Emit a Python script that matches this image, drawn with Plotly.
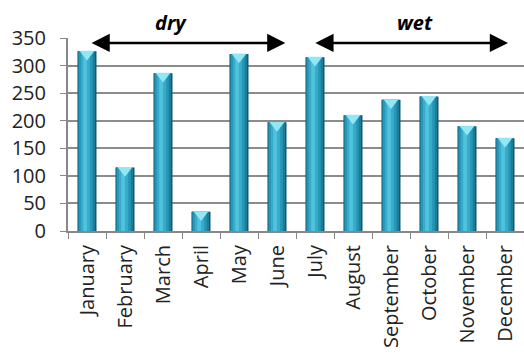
import plotly.graph_objects as go

# Monthly rainfall (mm)
months = ["January", "February", "March", "April", "May", "June",
          "July", "August", "September", "October", "November", "December"]
rainfall = [326, 115, 286, 35, 321, 197, 315, 210, 238, 244, 190, 168]

# Seasons: label, span of the arrow and label position (category index)
seasons = ["dry", "wet"]
season_start = [0.08, 5.97]
season_end = [5.22, 11.08]
season_label_x = [2.22, 8.64]
season_level = 341

y_ticks = [0, 50, 100, 150, 200, 250, 300, 350]

fig = go.Figure()

# Cylinder-like shading: stacked overlay of bars, dark edges to light core
layers = [
    (0.50, -0.25, "#135a70"),
    (0.45, -0.24, "#1e7c98"),
    (0.36, -0.21, "#2897b7"),
    (0.24, -0.16, "#36abcb"),
    (0.10, -0.10, "#52c1dc"),
]
for w, off, col in layers:
    fig.add_trace(go.Bar(
        x=months, y=rainfall, width=w, offset=off,
        marker=dict(color=col, line=dict(width=0)),
        hoverinfo="skip", showlegend=False,
    ))

# light top cap of each bar
fig.add_trace(go.Scatter(
    x=months, y=[v - 5 for v in rainfall], mode="markers",
    marker=dict(symbol="triangle-down", size=13, color="#93e6f4",
                line=dict(width=0)),
    hoverinfo="skip", showlegend=False,
))

annotations = []
for name, s, e, lx in zip(seasons, season_start, season_end, season_label_x):
    annotations.append(dict(
        x=e, y=season_level, ax=s, ay=season_level,
        xref="x", yref="y", axref="x", ayref="y",
        text="", showarrow=True, arrowhead=2, arrowside="end+start",
        arrowsize=1.4, arrowwidth=2.6, arrowcolor="#000000",
    ))
    annotations.append(dict(
        x=lx, y=1.0, xref="x", yref="paper", yshift=16,
        text=f"<b><i>{name}</i></b>", showarrow=False,
        font=dict(family="Open Sans", size=20, color="#000000"),
        yanchor="middle",
    ))

fig.update_layout(
    width=524, height=354,
    margin=dict(l=68, r=0, t=38, b=123),
    paper_bgcolor="white", plot_bgcolor="white",
    barmode="overlay",
    annotations=annotations,
    font=dict(family="Open Sans", color="#222222"),
)
fig.update_xaxes(
    type="category", range=[-0.5, 11.5],
    tickson="boundaries", ticks="outside", ticklen=6, tickcolor="#888888",
    tickangle=-90, tickfont=dict(size=20, color="#222222"),
    ticklabelstandoff=4,
    showline=True, linecolor="#888888", linewidth=2,
    showgrid=False,
)
fig.update_yaxes(
    range=[0, 350], tickvals=y_ticks,
    ticks="outside", ticklen=6, tickcolor="#888888",
    tickfont=dict(size=20, color="#222222"),
    ticklabelstandoff=10,
    showline=True, linecolor="#888888", linewidth=2,
    showgrid=True, gridcolor="#8c8c8c", gridwidth=1.5,
    zeroline=False,
)

fig.write_html("out.html")
